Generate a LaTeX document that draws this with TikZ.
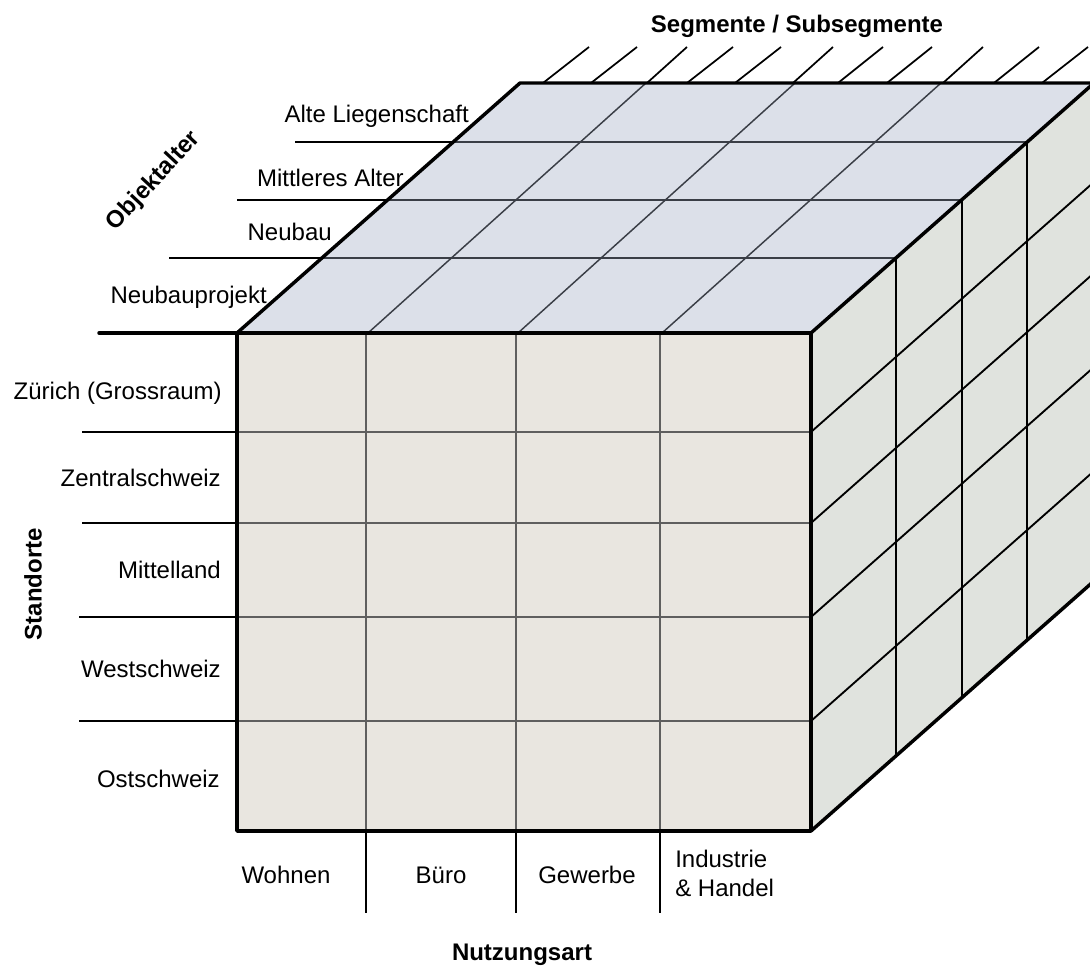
\documentclass[tikz,border=0pt]{standalone}
\usepackage{fontspec}
\setmainfont{Liberation Sans}
\definecolor{frontfill}{RGB}{233,230,224}
\definecolor{topfill}{RGB}{220,224,233}
\definecolor{sidefill}{RGB}{224,227,222}
\definecolor{topline}{RGB}{58,62,70}
\definecolor{frontline}{RGB}{95,95,95}
\begin{document}
\begin{tikzpicture}[x=0.75pt,y=-0.75pt,
  cubeedge/.style={line width=2.6pt, line cap=round, line join=round},
  frontgrid/.style={line width=1pt, frontline},
  topgrid/.style={line width=1.1pt, topline},
  sidegrid/.style={line width=1.4pt, black},
  labelline/.style={line width=1.4pt, black},
  hatch/.style={line width=1.3pt, black},
  lbl/.style={inner sep=0pt, font=\fontsize{18}{22}\selectfont},
  ttl/.style={inner sep=0pt, font=\fontsize{18}{22}\selectfont\bfseries}]
\useasboundingbox (0,0) rectangle (1090,967);

% faces of the cube
\fill[topfill] (237,333) -- (520,83) -- (1094,83) -- (811,333) -- cycle;
\fill[sidefill] (811,333) -- (1094,83) -- (1094,581) -- (811,831) -- cycle;
\fill[frontfill] (237,333) rectangle (811,831);

% front face grid
\foreach \y in {432,523,617,721}
  \draw[frontgrid] (237,\y) -- (811,\y);
\foreach \x in {366,516,660}
  \draw[frontgrid] (\x,333) -- (\x,831);

% top face grid: depth rows and slanted columns
\draw[topgrid] (322,258) -- (896,258);
\draw[topgrid] (388,200) -- (962,200);
\draw[topgrid] (453,142) -- (1027,142);
\draw[topgrid] (368,333) -- (646,83);
\draw[topgrid] (518,333) -- (795,83);
\draw[topgrid] (662,333) -- (941,83);

% side face grid
\foreach \y in {432,523,617,721}
  \draw[sidegrid] (811,\y) -- (1094,\y-250);
\draw[sidegrid] (896,258) -- (896,756);
\draw[sidegrid] (962,200) -- (962,698);
\draw[sidegrid] (1027,142) -- (1027,640);

% label rules on the left
\draw[labelline] (169,258) -- (322,258);
\draw[labelline] (237,200) -- (388,200);
\draw[labelline] (295,142) -- (453,142);
\foreach \y/\x in {432/82,523/82,617/79,721/79}
  \draw[labelline] (\x,\y) -- (237,\y);
% label rules below
\foreach \x in {366,516,660}
  \draw[labelline] (\x,831) -- (\x,913);

% segment hatches above the back edge
\foreach \a/\b in {543/589,591/637,647/687,687/733,735/781,793/833,838/883,887/932,943/983,994/1039,1042/1088}
  \draw[hatch] (\a,83) -- (\b,47);

% cube outline
\draw[cubeedge] (99,333) -- (811,333);
\draw[cubeedge] (237,333) -- (237,831) -- (811,831) -- (811,333);
\draw[cubeedge] (237,333) -- (520,83) -- (1094,83);
\draw[cubeedge] (811,333) -- (1094,83);
\draw[cubeedge] (811,831) -- (1094,581);

% axis titles
\node[ttl, anchor=base] (seg) at (797,32) {Segmente / Subsegmente};
\node[ttl, rotate=47] (obj) at (154,181) {Objektalter};
\node[ttl, rotate=90] (std) at (33,584) {Standorte};
\node[ttl, anchor=base] (nutz) at (522,960) {Nutzungsart};

% object age labels
\node[lbl, anchor=base east] (alt) at (469,122) {Alte Liegenschaft};
\node[lbl, anchor=base east] (mitt) at (404,186) {Mittleres Alter};
\node[lbl, anchor=base east] (neu) at (332,240) {Neubau};
\node[lbl, anchor=base east] (proj) at (267,303) {Neubauprojekt};

% location labels
\node[lbl, anchor=base east] (zh) at (222,399) {Zürich (Grossraum)};
\node[lbl, anchor=base east] (zs) at (221,486) {Zentralschweiz};
\node[lbl, anchor=base east] (ml) at (221,578) {Mittelland};
\node[lbl, anchor=base east] (ws) at (221,677) {Westschweiz};
\node[lbl, anchor=base east] (os) at (220,787) {Ostschweiz};

% usage labels
\node[lbl, anchor=base] (wohn) at (286,883) {Wohnen};
\node[lbl, anchor=base] (buero) at (441,883) {Büro};
\node[lbl, anchor=base] (gew) at (587,883) {Gewerbe};
\node[lbl, anchor=base west] (ind) at (675,867) {Industrie};
\node[lbl, anchor=base west] (hand) at (675,896) {\& Handel};
\end{tikzpicture}
\end{document}
